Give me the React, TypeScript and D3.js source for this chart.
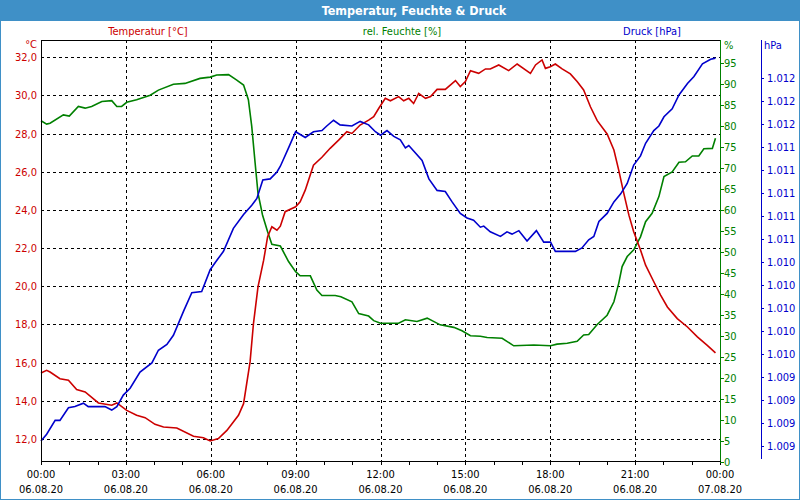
import React from "react";
import * as d3 from "d3";

const title = "Temperatur, Feuchte & Druck";
const legendTemp = "Temperatur [°C]";
const legendHum = "rel. Feuchte [%]";
const legendPres = "Druck [hPa]";

const xTimeLabels = ["00:00", "03:00", "06:00", "09:00", "12:00", "15:00", "18:00", "21:00", "00:00"];
const xDateLabels = ["06.08.20", "06.08.20", "06.08.20", "06.08.20", "06.08.20", "06.08.20", "06.08.20", "06.08.20", "07.08.20"];

const tempHours = [0, 0.2, 0.32, 0.67, 0.97, 1.26, 1.56, 2.03, 2.5, 2.68, 3.03, 3.38, 3.68, 4.03, 4.33, 4.8, 5.39, 5.74, 5.98, 6.27, 6.57, 6.98, 7.16, 7.39, 7.51, 7.67, 7.87, 8.01, 8.16, 8.34, 8.46, 8.63, 9.0, 9.16, 9.34, 9.63, 9.93, 10.22, 10.52, 10.81, 10.99, 11.28, 11.58, 11.76, 11.94, 12.17, 12.35, 12.64, 12.82, 13.0, 13.17, 13.35, 13.59, 13.77, 14.0, 14.29, 14.65, 14.82, 15.0, 15.18, 15.47, 15.71, 15.88, 16.18, 16.53, 16.83, 17.3, 17.48, 17.71, 17.83, 18.0, 18.18, 18.42, 18.71, 18.95, 19.18, 19.42, 19.66, 20.01, 20.25, 20.42, 20.6, 20.78, 20.95, 21.19, 21.37, 21.66, 21.9, 22.14, 22.49, 22.85, 23.2, 23.55, 23.84];
const tempValues = [15.46, 15.6, 15.51, 15.16, 15.08, 14.59, 14.47, 13.89, 13.77, 13.89, 13.5, 13.24, 13.12, 12.77, 12.63, 12.58, 12.14, 12.07, 11.9, 12.02, 12.45, 13.24, 13.85, 16.04, 18.05, 19.97, 21.37, 22.6, 23.12, 22.94, 23.15, 23.91, 24.17, 24.43, 25.04, 26.35, 26.76, 27.23, 27.66, 28.1, 28.01, 28.45, 28.71, 28.89, 29.33, 29.85, 29.72, 29.94, 29.72, 29.85, 29.58, 30.11, 29.85, 29.94, 30.32, 30.32, 30.78, 30.47, 30.73, 31.3, 31.16, 31.39, 31.39, 31.6, 31.3, 31.65, 31.16, 31.6, 31.86, 31.42, 31.51, 31.65, 31.39, 31.13, 30.73, 30.29, 29.41, 28.68, 27.98, 27.14, 26.09, 24.87, 23.73, 22.86, 21.9, 21.11, 20.24, 19.54, 18.92, 18.31, 17.87, 17.35, 16.91, 16.51];

const humHours = [0, 0.2, 0.32, 0.79, 1.0, 1.32, 1.56, 1.79, 2.15, 2.5, 2.68, 2.85, 3.03, 3.38, 3.86, 4.15, 4.68, 5.09, 5.62, 5.98, 6.21, 6.63, 6.92, 7.16, 7.33, 7.45, 7.57, 7.67, 7.83, 8.01, 8.16, 8.46, 8.75, 9.0, 9.16, 9.52, 9.75, 9.93, 10.4, 10.6, 10.99, 11.23, 11.58, 11.76, 12.0, 12.64, 12.88, 13.29, 13.65, 14.11, 14.59, 14.88, 15.18, 15.53, 15.77, 16.3, 16.71, 17.42, 18.01, 18.24, 18.6, 18.95, 19.18, 19.36, 19.66, 20.01, 20.25, 20.42, 20.54, 20.72, 20.95, 21.19, 21.37, 21.6, 21.84, 22.02, 22.31, 22.55, 22.78, 23.02, 23.25, 23.43, 23.73, 23.84];
const humValues = [81.3, 80.5, 80.7, 82.7, 82.4, 84.7, 84.3, 84.7, 85.9, 86.1, 84.7, 84.7, 85.7, 86.3, 87.4, 88.6, 90.0, 90.2, 91.4, 91.7, 92.2, 92.3, 91.0, 89.8, 86.3, 79.9, 71.1, 64.0, 58.8, 54.8, 51.8, 51.4, 47.7, 45.3, 44.3, 44.3, 40.9, 39.6, 39.6, 39.3, 38.1, 35.3, 34.7, 33.6, 33.0, 33.0, 33.8, 33.4, 34.2, 32.6, 32.0, 31.2, 30.0, 29.9, 29.6, 29.4, 27.6, 27.8, 27.6, 28.0, 28.2, 28.7, 30.2, 30.3, 32.7, 34.9, 38.1, 42.5, 46.5, 48.9, 50.5, 53.6, 57.2, 59.2, 63.2, 68.0, 69.1, 71.4, 71.5, 72.9, 72.9, 74.6, 74.7, 77.1];

const presHours = [0, 0.2, 0.5, 0.67, 0.97, 1.2, 1.5, 1.67, 1.97, 2.26, 2.5, 2.68, 2.91, 3.15, 3.5, 3.92, 4.15, 4.45, 4.68, 5.04, 5.33, 5.68, 5.98, 6.21, 6.45, 6.8, 7.16, 7.45, 7.63, 7.84, 8.1, 8.34, 8.46, 8.75, 9.0, 9.34, 9.63, 9.93, 10.1, 10.34, 10.57, 10.99, 11.28, 11.58, 11.82, 12.0, 12.23, 12.47, 12.7, 12.88, 13.0, 13.47, 13.71, 14.0, 14.29, 14.53, 14.82, 15.06, 15.29, 15.53, 15.65, 15.88, 16.24, 16.47, 16.65, 16.89, 17.18, 17.51, 17.77, 18.01, 18.18, 18.89, 19.12, 19.36, 19.54, 19.72, 20.01, 20.25, 20.49, 20.72, 20.95, 21.19, 21.37, 21.66, 21.84, 22.02, 22.31, 22.55, 22.85, 23.08, 23.38, 23.67, 23.84];
const presValues = [1008.84, 1008.9, 1009.02, 1009.02, 1009.13, 1009.14, 1009.17, 1009.14, 1009.14, 1009.14, 1009.11, 1009.14, 1009.24, 1009.3, 1009.44, 1009.52, 1009.63, 1009.68, 1009.76, 1009.97, 1010.13, 1010.14, 1010.33, 1010.41, 1010.49, 1010.69, 1010.81, 1010.89, 1010.95, 1011.11, 1011.12, 1011.18, 1011.23, 1011.39, 1011.53, 1011.48, 1011.53, 1011.54, 1011.58, 1011.63, 1011.59, 1011.58, 1011.62, 1011.59, 1011.53, 1011.5, 1011.54, 1011.49, 1011.46, 1011.39, 1011.41, 1011.28, 1011.12, 1011.02, 1011.01, 1010.92, 1010.82, 1010.78, 1010.76, 1010.7, 1010.71, 1010.66, 1010.62, 1010.66, 1010.64, 1010.67, 1010.58, 1010.67, 1010.57, 1010.57, 1010.49, 1010.49, 1010.52, 1010.59, 1010.62, 1010.75, 1010.82, 1010.92, 1010.99, 1011.08, 1011.24, 1011.32, 1011.43, 1011.54, 1011.58, 1011.66, 1011.73, 1011.85, 1011.95, 1012.01, 1012.12, 1012.16, 1012.17];

const tempTicks = [12, 14, 16, 18, 20, 22, 24, 26, 28, 30, 32];
const humTicks = [0, 5, 10, 15, 20, 25, 30, 35, 40, 45, 50, 55, 60, 65, 70, 75, 80, 85, 90, 95];
const presTicks = [1008.8, 1009.0, 1009.2, 1009.4, 1009.6, 1009.8, 1010.0, 1010.2, 1010.4, 1010.6, 1010.8, 1011.0, 1011.2, 1011.4, 1011.6, 1011.8, 1012.0];

const RED = "#cc0000";
const GREEN = "#008000";
const BLUE = "#0000cc";
const FRAME = "#3f90c7";
const FONT = "'DejaVu Sans Condensed', 'DejaVu Sans', sans-serif";

const de = d3.formatLocale({ decimal: ",", thousands: ".", grouping: [3], currency: ["", "€"] });
const fmtTemp = de.format(".1f");
const fmtPres = de.format(",.0f");

export default function App() {
  const W = 800, H = 500;
  const left = 41, right = 720, top = 40, bottom = 461;
  const x = d3.scaleLinear().domain([0, 24]).range([left, right]);
  const yT = d3.scaleLinear().domain([12, 32]).range([439, 57.3]);
  const yH = d3.scaleLinear().domain([0, 95]).range([461.5, 63.3]);
  const yP = d3.scaleLinear().domain([1008.8, 1012.0]).range([445.7, 77.7]);

  const mk = (hs: number[], vs: number[], ys: d3.ScaleLinear<number, number>) =>
    d3.line<number>().x((_, i) => x(hs[i])).y((v) => ys(v))(vs) || "";

  const hourTicks = d3.range(0, 25);
  const vGrid = d3.range(3, 24, 3);

  return (
    <svg width={W} height={H} style={{ position: "absolute", left: 0, top: 0, fontFamily: FONT, fontStretch: "condensed" }}>
      <rect x={0} y={0} width={W} height={H} fill="#fff" />
      <rect x={0.5} y={0.5} width={W - 1} height={H - 1} fill="none" stroke={FRAME} strokeWidth={1} />
      <rect x={0} y={0} width={W} height={21} fill={FRAME} />
      <text x={414} y={11} textAnchor="middle" dominantBaseline="middle" fill="#fff" fontWeight="bold" fontSize={12.5}>{title}</text>

      <text x={148} y={32} textAnchor="middle" dominantBaseline="middle" fill={RED} fontSize={11}>{legendTemp}</text>
      <text x={402} y={32} textAnchor="middle" dominantBaseline="middle" fill={GREEN} fontSize={11}>{legendHum}</text>
      <text x={652} y={32} textAnchor="middle" dominantBaseline="middle" fill={BLUE} fontSize={11}>{legendPres}</text>

      {/* grid */}
      {tempTicks.map((t) => (
        <line key={"hg" + t} x1={left} x2={right} y1={Math.round(yT(t)) + 0.5} y2={Math.round(yT(t)) + 0.5} stroke="#000" strokeDasharray="3,3" strokeWidth={1} />
      ))}
      {vGrid.map((h) => (
        <line key={"vg" + h} x1={Math.round(x(h)) + 0.5} x2={Math.round(x(h)) + 0.5} y1={top} y2={bottom} stroke="#000" strokeDasharray="3,3" strokeWidth={1} />
      ))}

      {/* lines */}
      <path d={mk(humHours, humValues, yH)} fill="none" stroke={GREEN} strokeWidth={1.6} />
      <path d={mk(tempHours, tempValues, yT)} fill="none" stroke={RED} strokeWidth={1.6} />
      <path d={mk(presHours, presValues, yP)} fill="none" stroke={BLUE} strokeWidth={1.6} />

      {/* frame */}
      <line x1={left} x2={right} y1={top + 0.5} y2={top + 0.5} stroke="#000" />
      <line x1={left + 0.5} x2={left + 0.5} y1={top} y2={bottom + 4} stroke="#000" />
      <line x1={left} x2={right} y1={bottom + 0.5} y2={bottom + 0.5} stroke="#000" />
      <line x1={right + 0.5} x2={right + 0.5} y1={top} y2={bottom + 1} stroke={GREEN} />

      {/* x ticks */}
      {hourTicks.map((h) => (
        <line key={"xt" + h} x1={Math.round(x(h)) + 0.5} x2={Math.round(x(h)) + 0.5} y1={bottom} y2={bottom + 4} stroke="#000" />
      ))}
      {xTimeLabels.map((s, i) => (
        <g key={"xl" + i}>
          <text x={x(i * 3)} y={475} textAnchor="middle" dominantBaseline="middle" fontSize={11} fill="#000">{s}</text>
          <text x={x(i * 3)} y={490} textAnchor="middle" dominantBaseline="middle" fontSize={11} fill="#000">{xDateLabels[i]}</text>
        </g>
      ))}

      {/* left temp axis */}
      <text x={37} y={45} textAnchor="end" dominantBaseline="middle" fill={RED} fontSize={11}>°C</text>
      {tempTicks.map((t) => (
        <text key={"tl" + t} x={37} y={yT(t) + 1} textAnchor="end" dominantBaseline="middle" fill={RED} fontSize={11}>{fmtTemp(t)}</text>
      ))}

      {/* humidity axis */}
      <text x={724} y={46} textAnchor="start" dominantBaseline="middle" fill={GREEN} fontSize={11}>%</text>
      {humTicks.map((t) => (
        <g key={"hl" + t}>
          <line x1={right} x2={right + 4} y1={Math.round(yH(t)) + 0.5} y2={Math.round(yH(t)) + 0.5} stroke={GREEN} />
          <text x={724} y={yH(t) + 1} textAnchor="start" dominantBaseline="middle" fill={GREEN} fontSize={11}>{t}</text>
        </g>
      ))}

      {/* pressure axis */}
      <line x1={761.5} x2={761.5} y1={top} y2={459} stroke={BLUE} />
      <text x={764} y={46} textAnchor="start" dominantBaseline="middle" fill={BLUE} fontSize={11}>hPa</text>
      {presTicks.map((t) => (
        <g key={"pl" + t}>
          <line x1={761} x2={764} y1={Math.round(yP(t)) + 0.5} y2={Math.round(yP(t)) + 0.5} stroke={BLUE} />
          <text x={767} y={yP(t) + 1} textAnchor="start" dominantBaseline="middle" fill={BLUE} fontSize={11}>{fmtPres(t)}</text>
        </g>
      ))}
    </svg>
  );
}
